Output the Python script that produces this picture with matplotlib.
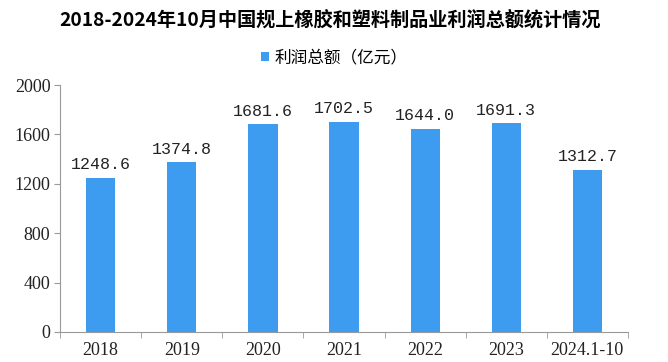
import matplotlib.pyplot as plt
import numpy as np

years = ["2018", "2019", "2020", "2021", "2022", "2023", "2024.1-10"]
profit = [1248.6, 1374.8, 1681.6, 1702.5, 1644.0, 1691.3, 1312.7]
yticks = [0, 400, 800, 1200, 1600, 2000]

cjk = ["Noto Sans CJK SC", "DejaVu Sans"]
num_font = ["Liberation Serif", "DejaVu Serif"]
val_font = ["Liberation Mono", "DejaVu Sans Mono"]

fig = plt.figure(figsize=(6.68, 3.62), dpi=100)
ax = fig.add_axes([0.09, 0.083, 0.85, 0.682])

x = np.arange(len(years))
bars = ax.bar(x, profit, width=0.36, color="#3d9cf0", label="利润总额（亿元）")

for xi, v in zip(x, profit):
    ax.text(xi, v + 45, f"{v:.1f}", ha="center", va="bottom",
            fontsize=12, family=val_font, color="#222222")

ax.set_xlim(-0.5, len(years) - 0.5)
ax.set_ylim(0, 2000)
ax.set_yticks(yticks)
ax.set_yticklabels([str(t) for t in yticks], family=num_font, fontsize=13,
                   color="#222222")
ax.set_xticks(x)
ax.set_xticklabels(years, family=num_font, fontsize=13, color="#222222")
ax.set_xticks(np.arange(-0.5, len(years)), minor=True)
ax.tick_params(axis="x", which="major", length=0, pad=7)
ax.tick_params(axis="x", which="minor", length=4, color="#999999")
ax.tick_params(axis="y", length=4, color="#999999", pad=3)

for side in ["top", "right"]:
    ax.spines[side].set_visible(False)
for side in ["left", "bottom"]:
    ax.spines[side].set_color("#999999")

fig.text(0.494, 0.945, "2018-2024年10月中国规上橡胶和塑料制品业利润总额统计情况",
         ha="center", va="center", fontsize=13.8, fontweight="bold", family=cjk)

leg = fig.legend(handles=[bars], labels=["利润总额（亿元）"], loc="center",
                 bbox_to_anchor=(0.5, 0.84), frameon=False,
                 prop={"family": cjk, "size": 12}, handlelength=0.5,
                 handleheight=0.5, handletextpad=0.3)

fig.savefig("out.png", dpi=100)
